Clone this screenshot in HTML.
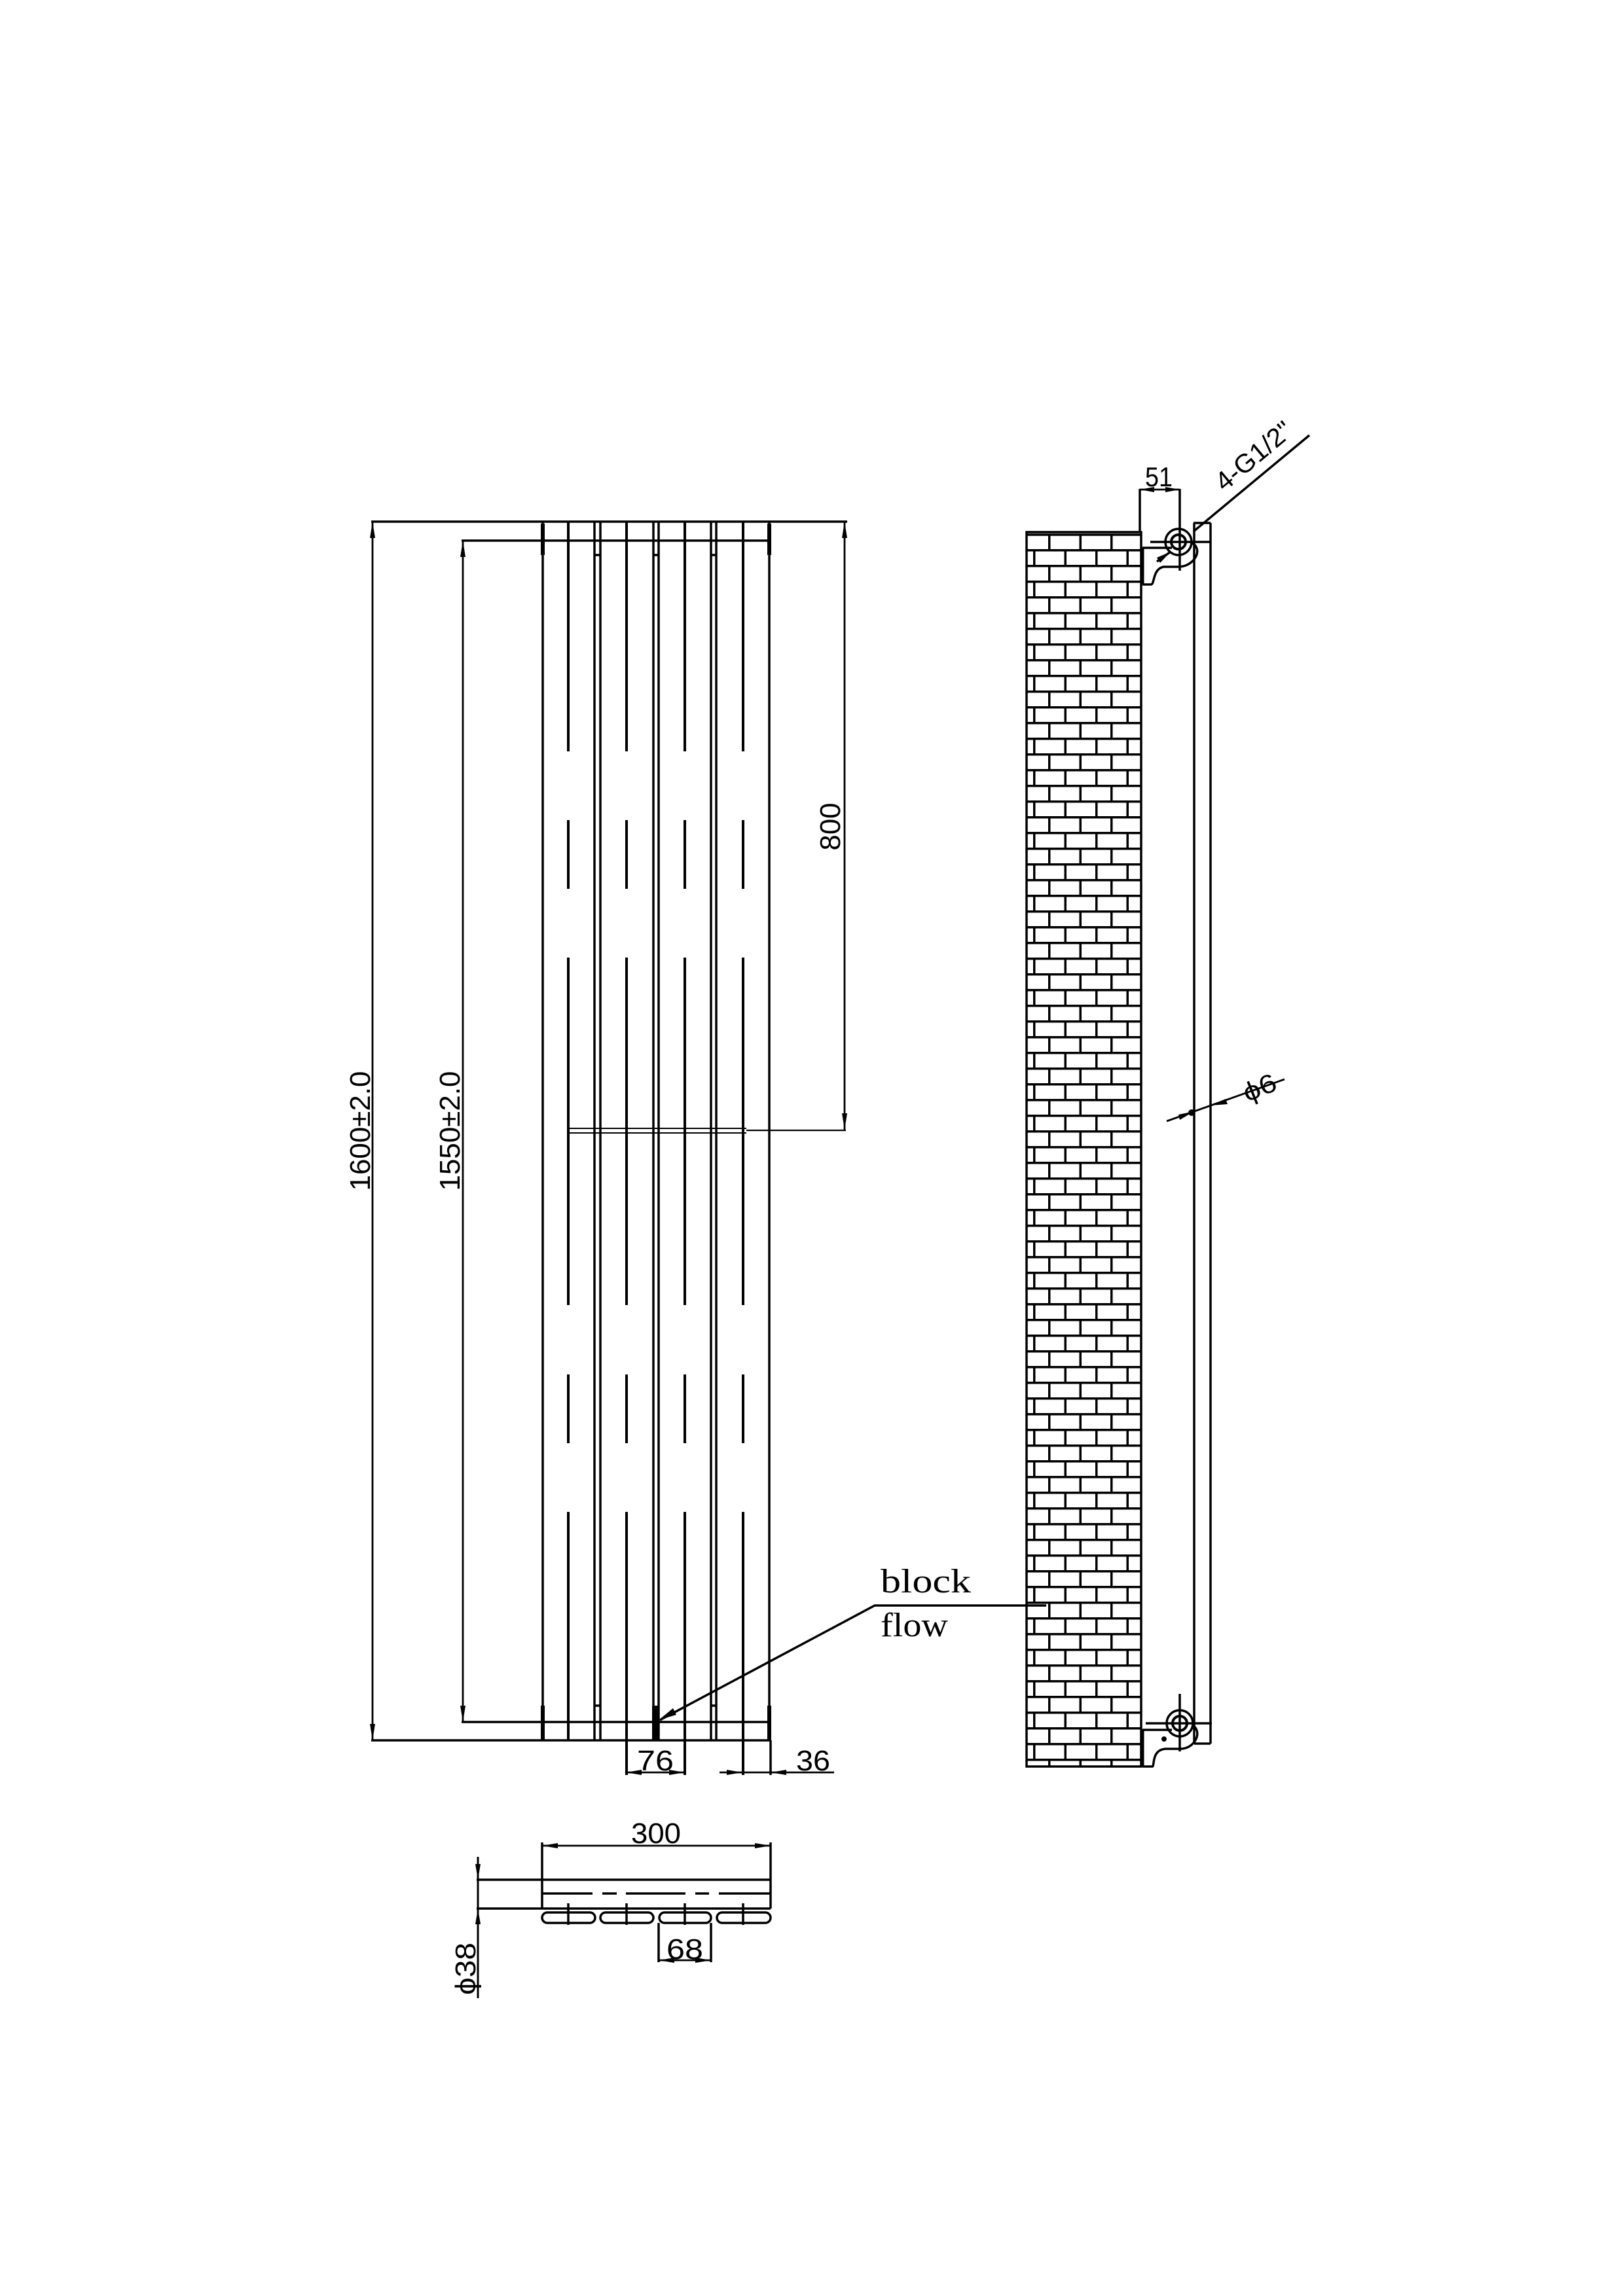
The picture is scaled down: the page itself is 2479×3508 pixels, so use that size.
<!DOCTYPE html>
<html><head><meta charset="utf-8"><style>
html,body{margin:0;padding:0;background:#fff;}
svg{display:block;}
text{font-family:"Liberation Sans",sans-serif;fill:#000;}
.s{font-family:"Liberation Serif",serif;}
</style></head><body>
<svg width="2479" height="3508" viewBox="0 0 2479 3508" xmlns="http://www.w3.org/2000/svg">
<defs>
<pattern id="brick" x="1578" y="815" width="47.5" height="48" patternUnits="userSpaceOnUse">
<rect x="0" y="0" width="47.5" height="3.5" fill="#000"/>
<rect x="0" y="24" width="47.5" height="3.5" fill="#000"/>
<rect x="23" y="0" width="3.5" height="26" fill="#000"/>
<rect x="0" y="24" width="3.5" height="24" fill="#000"/>
</pattern>
</defs>
<rect width="2479" height="3508" fill="#fff"/>
<g stroke="#000" stroke-width="3.5" fill="none" stroke-linecap="butt">
<!-- FRONT VIEW -->
<line x1="567" y1="797" x2="1294" y2="797"/>
<line x1="705" y1="826" x2="1176" y2="826"/>
<line x1="567" y1="2659" x2="1176" y2="2659"/>
<line x1="705" y1="2631" x2="1176" y2="2631"/>
<line x1="569" y1="797" x2="569" y2="2659" stroke-width="2.8"/>
<line x1="707" y1="826" x2="707" y2="2631" stroke-width="2.8"/>
<line x1="1290" y1="797" x2="1290" y2="1726" stroke-width="2.8"/>
<line x1="829" y1="797" x2="829" y2="2659"/>
<line x1="908" y1="797" x2="908" y2="2659"/>
<line x1="917" y1="797" x2="917" y2="2659"/>
<line x1="998" y1="797" x2="998" y2="2659"/>
<line x1="1006" y1="797" x2="1006" y2="2659"/>
<line x1="1086" y1="797" x2="1086" y2="2659"/>
<line x1="1094" y1="797" x2="1094" y2="2659"/>
<line x1="1175" y1="797" x2="1175" y2="2659"/>
<line x1="829" y1="800" x2="829" y2="848" stroke-width="6"/>
<line x1="1175" y1="800" x2="1175" y2="848" stroke-width="6"/>
<line x1="829" y1="2606" x2="829" y2="2659" stroke-width="6"/>
<line x1="1175" y1="2606" x2="1175" y2="2659" stroke-width="6"/>
<line x1="908" y1="848" x2="917" y2="848"/><line x1="998" y1="848" x2="1006" y2="848"/><line x1="1086" y1="848" x2="1094" y2="848"/>
<line x1="908" y1="2606" x2="917" y2="2606"/><line x1="1086" y1="2606" x2="1094" y2="2606"/>
<g stroke-width="4">
<path d="M868 797V1148M868 1253V1358M868 1463V1994M868 2100V2205M868 2310V2659"/>
<path d="M957 797V1148M957 1253V1358M957 1463V1994M957 2100V2205M957 2310V2712"/>
<path d="M1046 797V1148M1046 1253V1358M1046 1463V1994M1046 2100V2205M1046 2310V2712"/>
<path d="M1135 797V1148M1135 1253V1358M1135 1463V1994M1135 2100V2205M1135 2310V2712"/>
</g>
<line x1="1177" y1="2659" x2="1177" y2="2712"/>
<line x1="867" y1="1724" x2="1140" y2="1724" stroke-width="2"/>
<line x1="867" y1="1731" x2="1140" y2="1731" stroke-width="2"/>
<line x1="1140" y1="1727" x2="1292" y2="1727" stroke-width="2.2"/>
<line x1="956" y1="2708" x2="1046" y2="2708" stroke-width="2.8"/>
<line x1="1099" y1="2708" x2="1274" y2="2708" stroke-width="2.8"/>
<rect x="996" y="2606" width="10" height="53" fill="#000" stroke="none"/>
<polyline points="1008,2628 1336,2453 1598,2453" stroke-width="3.5"/>
<!-- PLAN VIEW -->
<line x1="828" y1="2820" x2="1177" y2="2820" stroke-width="2.8"/>
<line x1="828" y1="2815" x2="828" y2="2916"/>
<line x1="1177" y1="2815" x2="1177" y2="2916"/>
<line x1="728" y1="2872" x2="1177" y2="2872"/>
<line x1="728" y1="2916" x2="1177" y2="2916"/>
<path d="M828 2893H905M920 2893H942M956 2893H1047M1062 2893H1083M1098 2893H1177"/>
<rect x="828" y="2922" width="81" height="16" rx="8"/>
<rect x="917" y="2922" width="81" height="16" rx="8"/>
<rect x="1007" y="2922" width="79" height="16" rx="8"/>
<rect x="1095" y="2922" width="82" height="16" rx="8"/>
<path d="M868 2908V2941M957 2908V2941M1046 2908V2941M1135 2908V2941"/>
<line x1="1006" y1="2938" x2="1006" y2="2998"/>
<line x1="1086" y1="2938" x2="1086" y2="2998"/>
<line x1="1006" y1="2995" x2="1086" y2="2995" stroke-width="2.8"/>
<line x1="730" y1="2837" x2="730" y2="3053" stroke-width="3"/>
<!-- SIDE VIEW wall -->
<rect x="1568" y="817" width="175" height="1882" fill="url(#brick)" stroke="none"/>
<rect x="1568" y="813" width="175" height="1886"/>
<line x1="1568" y1="817" x2="1743" y2="817"/>
<line x1="1745" y1="837" x2="1745" y2="893" stroke-width="5"/>
<line x1="1745" y1="2643" x2="1745" y2="2699" stroke-width="5"/>
<line x1="1824" y1="799" x2="1824" y2="2664"/>
<line x1="1849" y1="799" x2="1849" y2="2664"/>
<line x1="1823" y1="799" x2="1849" y2="799"/>
<line x1="1824" y1="2664" x2="1849" y2="2664"/>
<line x1="1741" y1="747" x2="1741" y2="813"/>
<line x1="1802" y1="747" x2="1802" y2="872"/>
<line x1="1741" y1="748" x2="1802" y2="748" stroke-width="2.8"/>
<circle cx="1800" cy="828" r="20"/>
<circle cx="1800" cy="828" r="11" stroke-width="4"/>
<line x1="1757" y1="828" x2="1849" y2="828"/>
<line x1="1745" y1="837" x2="1790" y2="837"/>
<path d="M1745 893H1758C1764 893 1760 870 1777 866H1800C1818 866 1832 850 1828 838C1826 832 1822 830 1820 830"/>
<line x1="1767" y1="858" x2="1788" y2="843"/>
<line x1="1823" y1="812" x2="2000" y2="665"/>
<circle cx="1802" cy="2633" r="20"/>
<circle cx="1802" cy="2633" r="11" stroke-width="4"/>
<line x1="1750" y1="2633" x2="1851" y2="2633"/>
<line x1="1802" y1="2588" x2="1802" y2="2676"/>
<line x1="1745" y1="2643" x2="1790" y2="2643"/>
<path d="M1745 2699H1760C1764 2699 1758 2674 1780 2672H1803C1820 2672 1832 2656 1828 2644C1826 2638 1822 2636 1820 2636"/>
<line x1="1782" y1="1713" x2="1962" y2="1649" stroke-width="2.8"/>
</g>
<circle cx="1820" cy="1700" r="5" fill="#000"/>
<circle cx="1778" cy="2657" r="4" fill="#000"/>
<g fill="#000">
<polygon points="569,797 565,822 573,822"/><polygon points="569,2659 565,2634 573,2634"/>
<polygon points="707,826 703,851 711,851"/><polygon points="707,2631 703,2606 711,2606"/>
<polygon points="1290,797 1286,822 1294,822"/><polygon points="1290,1726 1286,1701 1294,1701"/>
<polygon points="1006,2628 1028,2610 1033,2620"/>
<polygon points="956,2708 980,2704 980,2712"/><polygon points="1046,2708 1022,2704 1022,2712"/>
<polygon points="1134,2708 1110,2704 1110,2712"/><polygon points="1177,2708 1201,2704 1201,2712"/>
<polygon points="828,2820 852,2816 852,2824"/><polygon points="1177,2820 1153,2816 1153,2824"/>
<polygon points="1006,2995 1030,2991 1030,2999"/><polygon points="1086,2995 1062,2991 1062,2999"/>
<polygon points="730,2872 726,2848 734,2848"/><polygon points="730,2916 726,2940 734,2940"/>
<polygon points="1741,748 1763,744 1763,752"/><polygon points="1802,748 1780,744 1780,752"/>
<polygon points="1788,843 1772,860 1767,852"/>
<polygon points="1824,1698 1800,1703 1802,1711"/><polygon points="1849,1689 1872,1679 1875,1687"/>
</g>
<text transform="translate(565,1728) rotate(-90)" font-size="44" text-anchor="middle" textLength="183" lengthAdjust="spacingAndGlyphs">1600±2.0</text>
<text transform="translate(702,1728) rotate(-90)" font-size="44" text-anchor="middle" textLength="183" lengthAdjust="spacingAndGlyphs">1550±2.0</text>
<text transform="translate(1283,1263) rotate(-90)" font-size="44" text-anchor="middle" textLength="73" lengthAdjust="spacingAndGlyphs">800</text>
<text x="1001" y="2705" font-size="44" text-anchor="middle" textLength="56" lengthAdjust="spacingAndGlyphs">76</text>
<text x="1242" y="2705" font-size="44" text-anchor="middle" textLength="52" lengthAdjust="spacingAndGlyphs">36</text>
<text x="1002" y="2816" font-size="44" text-anchor="middle" textLength="76" lengthAdjust="spacingAndGlyphs">300</text>
<text x="1046" y="2993" font-size="44" text-anchor="middle" textLength="56" lengthAdjust="spacingAndGlyphs">68</text>
<text transform="translate(726,3008) rotate(-90)" font-size="44" text-anchor="middle" textLength="80" lengthAdjust="spacingAndGlyphs">ϕ38</text>
<text x="1770" y="743" font-size="42" text-anchor="middle" textLength="42" lengthAdjust="spacingAndGlyphs">51</text>
<text transform="translate(1870,752) rotate(-40)" font-size="40" textLength="140" lengthAdjust="spacingAndGlyphs">4-G1/2"</text>
<text transform="translate(1905,1684) rotate(-22)" font-size="40" textLength="52" lengthAdjust="spacingAndGlyphs">ϕ6</text>
<text class="s" x="1345" y="2433" font-size="52" textLength="138" lengthAdjust="spacingAndGlyphs">block</text>
<text class="s" x="1345" y="2500" font-size="52" textLength="103" lengthAdjust="spacingAndGlyphs">flow</text>
</svg>
</body></html>
